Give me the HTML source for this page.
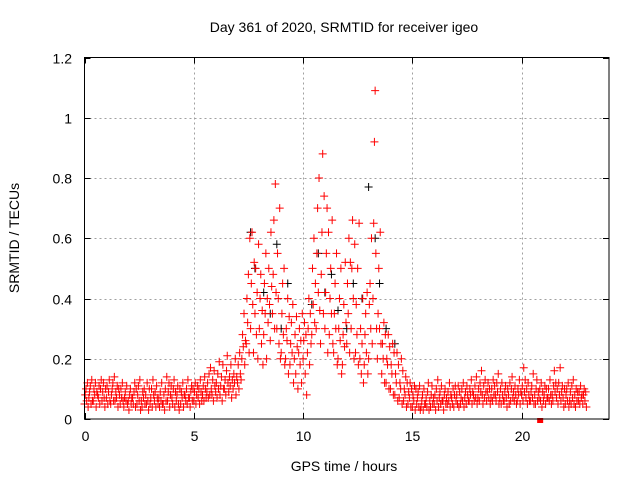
<!DOCTYPE html>
<html><head><meta charset="utf-8"><style>
body{margin:0;background:#fff;}
svg text{font-family:"Liberation Sans",sans-serif;font-size:14px;fill:#000;}
</style></head><body>
<svg id="chart" width="640" height="480">
<text x="344" y="32" text-anchor="middle">Day 361 of 2020, SRMTID for receiver igeo</text>
<text transform="translate(19,238) rotate(-90)" text-anchor="middle">SRMTID / TECUs</text>
<text x="344" y="471" text-anchor="middle">GPS time / hours</text>
<g id="grid"></g><g id="blk"></g><g id="red"></g>
<rect x="84.5" y="57.5" width="524.5" height="361.5" fill="none" stroke="#000" stroke-width="1"/>
</svg>
<script>
const times=[0,0.2,0.4,0.6,0.8,1,1.2,1.4,1.6,1.8,2,2.2,2.4,2.6,2.8,3,3.2,3.4,3.6,3.8,4,4.2,4.4,4.6,4.8,5,5.2,5.4,5.6,5.8,6,6.2,6.4,6.6,6.8,7,7.2,7.4,7.6,7.8,8,8.2,8.4,8.6,8.8,9,9.2,9.4,9.6,9.8,10,10.2,10.4,10.6,10.8,11,11.2,11.4,11.6,11.8,12,12.2,12.4,12.6,12.8,13,13.2,13.4,13.6,13.8,14,14.2,14.4,14.6,14.8,15,15.2,15.4,15.6,15.8,16,16.2,16.4,16.6,16.8,17,17.2,17.4,17.6,17.8,18,18.2,18.4,18.6,18.8,19,19.2,19.4,19.6,19.8,20,20.2,20.4,20.6,20.8,21,21.2,21.4,21.6,21.8,22,22.2,22.4,22.6,22.8];
const redValues=[
[.05,.08,.1,.06,.12,.04],[.07,.09,.11,.05,.13,.06],[.06,.1,.08,.12,.04,.09],[.08,.07,.11,.05,.1,.13],[.06,.09,.12,.07,.04,.1],
[.07,.11,.05,.09,.13,.06],[.05,.08,.1,.12,.06,.14],[.06,.09,.07,.11,.04,.1],[.08,.05,.1,.07,.12,.06],[.04,.07,.09,.06,.11,.05],
[.06,.03,.08,.1,.05,.07],[.07,.05,.09,.12,.04,.1],[.05,.08,.11,.06,.13,.03],[.06,.04,.09,.07,.1,.05],[.08,.05,.12,.06,.03,.1],
[.05,.07,.1,.04,.13,.08],[.06,.09,.04,.11,.07,.05],[.07,.04,.09,.06,.12,.05],[.05,.08,.03,.1,.06,.14],[.06,.09,.12,.04,.08,.11],
[.07,.05,.1,.13,.04,.09],[.06,.08,.11,.05,.03,.1],[.05,.09,.07,.12,.04,.08],[.08,.06,.1,.05,.13,.07],[.07,.04,.09,.11,.06,.1],
[.06,.09,.12,.05,.08,.11],[.07,.1,.05,.13,.09,.06],[.08,.11,.06,.14,.1,.07],[.09,.12,.07,.15,.08,.17],[.1,.08,.13,.06,.16,.11],
[.09,.12,.07,.15,.1,.19],[.08,.11,.14,.06,.18,.1],[.1,.13,.08,.16,.21,.12],[.09,.14,.11,.18,.07,.13],[.1,.15,.12,.2,.08,.14],
[.12,.18,.1,.22,.15,.13],[.2,.28,.24,.35,.18,.26],[.25,.4,.32,.48,.22,.6],[.3,.45,.62,.38,.22,.52],[.35,.5,.28,.42,.2,.58],
[.3,.4,.48,.25,.36,.18],[.28,.45,.35,.55,.2,.4],[.32,.5,.38,.26,.62,.44],[.35,.48,.66,.3,.78,.42],[.3,.55,.4,.25,.7,.2],
[.22,.35,.45,.28,.5,.18],[.2,.3,.26,.4,.15,.34],[.18,.25,.32,.22,.38,.12],[.2,.28,.15,.34,.24,.1],[.22,.3,.18,.26,.12,.35],
[.2,.26,.32,.15,.28,.08],[.22,.3,.4,.18,.35,.25],[.28,.5,.38,.6,.32,.45],[.3,.55,.7,.42,.8,.36],[.25,.48,.62,.88,.35,.74],
[.3,.42,.55,.7,.22,.62],[.28,.4,.5,.35,.66,.25],[.22,.35,.45,.3,.55,.18],[.2,.3,.4,.26,.5,.15],[.18,.28,.38,.24,.52,.32],
[.25,.45,.35,.6,.22,.52],[.3,.5,.66,.4,.2,.58],[.22,.38,.28,.5,.18,.65],[.2,.3,.15,.25,.4,.12],[.18,.28,.35,.22,.42,.15],
[.2,.38,.45,.3,.6,.25],[.4,.65,.92,1.09,.55,.3],[.2,.35,.5,.3,.62,.25],[.15,.25,.2,.32,.12,.28],[.12,.2,.18,.28,.1,.24],
[.1,.18,.15,.25,.08,.22],[.08,.15,.12,.22,.06,.18],[.07,.12,.1,.2,.05,.16],[.06,.1,.08,.14,.04,.12],[.05,.09,.07,.12,.04,.1],
[.04,.08,.06,.11,.03,.1],[.05,.07,.09,.04,.11,.03],[.04,.06,.08,.03,.1,.05],[.05,.07,.04,.09,.12,.03],[.06,.04,.08,.11,.05,.07],
[.05,.08,.03,.1,.06,.13],[.04,.07,.09,.05,.11,.06],[.06,.03,.08,.1,.05,.07],[.05,.09,.06,.12,.04,.08],[.07,.05,.1,.04,.08,.11],
[.06,.08,.05,.11,.04,.09],[.05,.07,.1,.06,.12,.04],[.07,.09,.05,.11,.08,.06],[.06,.1,.08,.13,.05,.09],[.08,.06,.11,.07,.14,.05],
[.07,.1,.06,.12,.09,.16],[.08,.05,.11,.07,.13,.09],[.06,.09,.12,.07,.1,.05],[.07,.1,.06,.13,.08,.11],[.08,.06,.12,.09,.15,.05],
[.07,.1,.05,.12,.08,.06],[.06,.09,.11,.07,.04,.1],[.08,.05,.12,.06,.1,.14],[.07,.09,.06,.11,.08,.05],[.06,.1,.08,.13,.05,.09],
[.08,.11,.06,.17,.09,.13],[.07,.1,.05,.12,.08,.06],[.06,.09,.11,.07,.15,.05],[.08,.05,.1,.13,.06,.09],[.07,.1,.06,.12,.04,.09],
[.06,.08,.11,.05,.1,.07],[.07,.1,.06,.13,.08,.05],[.08,.06,.11,.16,.09,.12],[.07,.1,.05,.12,.08,.17],[.06,.09,.11,.07,.04,.1],
[.05,.08,.1,.06,.12,.04],[.06,.09,.05,.11,.07,.13],[.05,.08,.04,.1,.06,.09],[.06,.09,.05,.11,.07,.08],[.05,.08,.1,.06,.09,.04],
[.06,.09,.05,.08,.07,.1]];
const blackTimes=[7.6,7.8,8.2,8.5,8.8,9.0,9.3,10.4,10.7,11.0,11.3,11.6,12.0,12.3,12.7,13.0,13.3,13.5,13.8,14.2];
const blackValues=[.62,.5,.42,.35,.58,.3,.45,.38,.55,.42,.48,.36,.3,.45,.4,.77,.6,.45,.3,.25];
const xTicks=[0,5,10,15,20];
const yTicks=[0,0.2,0.4,0.6,0.8,1,1.2];
const yTickLabels=["0","0.2","0.4","0.6","0.8","1","1.2"];
const L=84.5,R=609,T=57.5,B=419,XMAX=24,YMAX=1.2;
const xs=v=>L+(R-L)*v/XMAX, ys=v=>B-(B-T)*v/YMAX;
const NS="http://www.w3.org/2000/svg";
const grid=document.getElementById('grid');
function line(g,x1,y1,x2,y2,st,dash){const l=document.createElementNS(NS,'line');l.setAttribute('x1',x1);l.setAttribute('y1',y1);l.setAttribute('x2',x2);l.setAttribute('y2',y2);l.setAttribute('stroke',st);if(dash)l.setAttribute('stroke-dasharray',dash);g.appendChild(l);return l;}
function txt(x,y,s,anchor){const t=document.createElementNS(NS,'text');t.setAttribute('x',x);t.setAttribute('y',y);t.setAttribute('text-anchor',anchor);t.textContent=s;document.getElementById('chart').appendChild(t);return t;}
xTicks.forEach(v=>{const x=Math.round(xs(v))+0.5;
 if(v>0){const g=line(grid,x,T,x,B,'#a0a0a0','2,3');}
 line(grid,x,B,x,B-6,'#000');line(grid,x,T,x,T+6,'#000');
 const t=txt(x,441,String(v),'middle');
 
 });
yTicks.forEach((v,i)=>{const y=Math.round(ys(v))+0.5;
 if(v>0&&v<1.2){const g=line(grid,L,y,R,y,'#a0a0a0','2,3');}
 line(grid,L,y,L+6,y,'#000');line(grid,R,y,R-6,y,'#000');
 const t=txt(72,y+5,yTickLabels[i],'end');
 
 });
function plus(g,x,y,c){const p=document.createElementNS(NS,'path');p.setAttribute('d',`M${x-4} ${y}H${x+4}M${x} ${y-4}V${y+4}`);p.setAttribute('stroke',c);p.setAttribute('fill','none');g.appendChild(p);return p;}
const blk=document.getElementById('blk');
blackTimes.forEach((t,i)=>{const p=plus(blk,xs(t),ys(blackValues[i]),'#000');
 
 });
const red=document.getElementById('red');
times.forEach((t,i)=>{const row=redValues[i];if(!row)return;row.forEach((v,j)=>{const p=plus(red,xs(t+j*0.033),ys(v),'#ff0000');
 
 });});
const sq=document.createElementNS(NS,'rect');sq.setAttribute('x',xs(20.85)-3);sq.setAttribute('y',B-1);sq.setAttribute('width',6);sq.setAttribute('height',5);sq.setAttribute('fill','#ff0000');


red.appendChild(sq);
</script>
</body></html>
